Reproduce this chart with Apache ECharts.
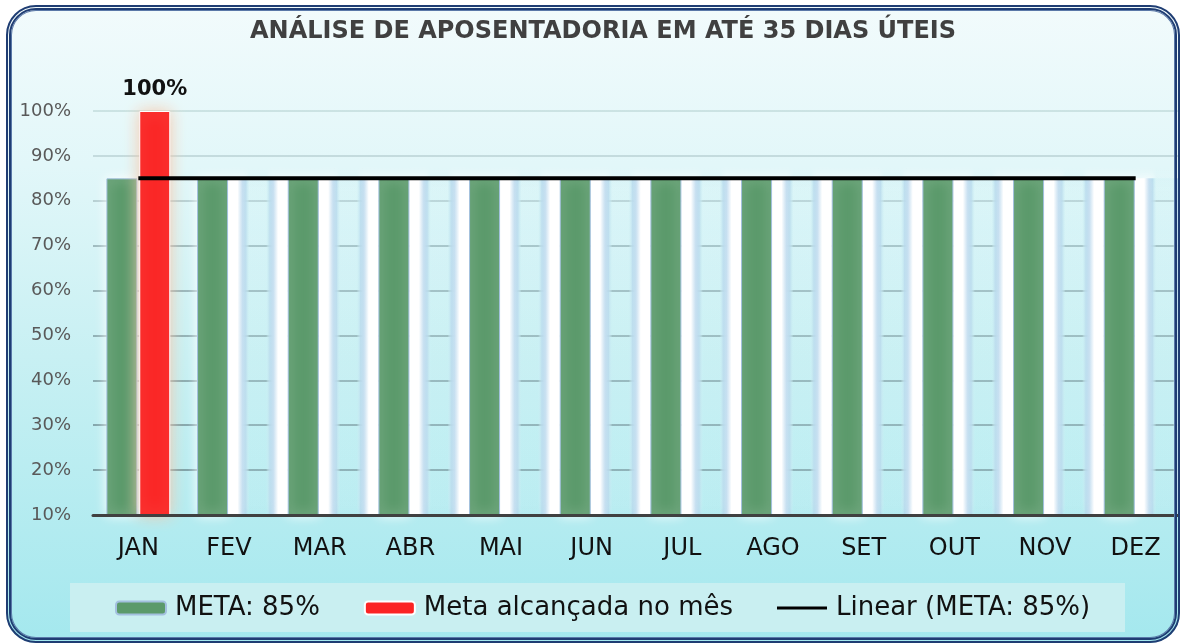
<!DOCTYPE html>
<html>
<head>
<meta charset="utf-8">
<script src="https://cdn.jsdelivr.net/npm/echarts@6/dist/echarts.min.js"></script>
<style>
  html, body { margin: 0; padding: 0; background: #ffffff; }
  #bg {
    position: absolute; left: 6px; top: 5px; width: 1174px; height: 638px;
    border-radius: 30px;
    background: linear-gradient(to bottom, #f2fbfc 0%, #e2f7f9 25%, #c8f0f3 55%, #a4e8ee 100%);
  }
  #frame {
    position: absolute; left: 6px; top: 5px; width: 1164px; height: 628px;
    border: 5px double #1f3d73; border-radius: 30px; pointer-events: none;
    box-shadow: inset 0 0 0 1px #5a78a8, 0 0 0 2px #ffffff;
  }
  #chart { position: absolute; left: 0; top: 0; width: 1181px; height: 643px; }
</style>
</head>
<body>
<div id="bg"></div>
<div id="chart"></div>
<div id="frame"></div>
<script>
const categories = ['JAN', 'FEV', 'MAR', 'ABR', 'MAI', 'JUN', 'JUL', 'AGO', 'SET', 'OUT', 'NOV', 'DEZ'];
const meta = [85, 85, 85, 85, 85, 85, 85, 85, 85, 85, 85, 85];
const alcancada = [100, null, null, null, null, null, null, null, null, null, null, null];
const sombra = [null, 85, 85, 85, 85, 85, 85, 85, 85, 85, 85, 85];
const linear = [85, 85, 85, 85, 85, 85, 85, 85, 85, 85, 85, 85];
const yTicks = { min: 10, max: 100, interval: 10 };

const chart = echarts.init(document.getElementById('chart'));
const font = 'DejaVu Sans';
const lineIcon = 'path://M0,0H0.01V0.01H0Z M0,5H50V8H0Z M49.99,12.99H50V13H49.99Z';

function renderSombra(params, api) {
  const v = api.value(1);
  if (isNaN(v)) return null;
  const idx = api.value(0);
  const top = api.coord([idx, v]);
  const base = api.coord([idx, yTicks.min]);
  const cw = api.size([1, 0])[0];
  const x0 = top[0] - 1;
  const x1 = top[0] + cw - 32;
  return {
    type: 'rect',
    shape: { x: x0, y: top[1], width: x1 - x0, height: base[1] - top[1] },
    style: {
      fill: new echarts.graphic.LinearGradient(0, 0, 1, 0, [
        { offset: 0, color: 'rgba(255,255,255,1)' },
        { offset: 0.16, color: 'rgba(255,255,255,1)' },
        { offset: 0.24, color: 'rgba(196,222,240,0.95)' },
        { offset: 0.3, color: 'rgba(168,210,232,0.7)' },
        { offset: 0.36, color: 'rgba(166,230,238,0.12)' },
        { offset: 0.64, color: 'rgba(166,230,238,0.12)' },
        { offset: 0.7, color: 'rgba(168,210,232,0.7)' },
        { offset: 0.76, color: 'rgba(196,222,240,0.95)' },
        { offset: 0.84, color: 'rgba(255,255,255,1)' },
        { offset: 1, color: 'rgba(255,255,255,1)' }
      ]),
      shadowBlur: 12, shadowColor: 'rgba(255,255,255,1)'
    }
  };
}

chart.setOption({
  animation: false,
  textStyle: { fontFamily: font },
  title: {
    text: 'ANÁLISE DE APOSENTADORIA EM ATÉ 35 DIAS ÚTEIS',
    left: 598, top: 15, textAlign: 'center',
    textStyle: { fontFamily: font, fontSize: 24, fontWeight: 'bold', color: '#404040' }
  },
  graphic: [{
    type: 'rect', z: -1, silent: true,
    shape: { x: 70, y: 583, width: 1055, height: 49 },
    style: { fill: '#c9eff1' }
  }],
  legend: {
    left: 110, top: 590, itemWidth: 50, itemHeight: 13, itemGap: 44,
    data: [
      { name: 'META: 85%' },
      { name: 'Meta alcançada no mês' },
      { name: 'Linear (META: 85%)', icon: lineIcon, itemStyle: { color: '#000000', borderWidth: 0 } }
    ],
    textStyle: { fontFamily: font, fontSize: 26, color: '#111111', padding: [0, 0, 0, 4] }
  },
  grid: { left: 93, top: 111, width: 1090, bottom: 128, containLabel: false },
  xAxis: {
    type: 'category', data: categories, z: 10,
    axisLine: { lineStyle: { color: '#404040', width: 3 } },
    axisTick: { show: false },
    axisLabel: { fontFamily: font, fontSize: 24, color: '#111111', margin: 22 }
  },
  yAxis: {
    type: 'value', min: yTicks.min, max: yTicks.max, interval: yTicks.interval,
    axisLine: { show: false }, axisTick: { show: false },
    axisLabel: { fontFamily: font, fontSize: 18, color: '#595959', margin: 22, formatter: '{value}%' },
    splitLine: {
      lineStyle: {
        width: 1.5,
        color: {
          type: 'linear', x: 0, y: 100, x2: 0, y2: 520, global: true,
          colorStops: [
            { offset: 0, color: '#c4dedd' },
            { offset: 0.2, color: '#b4cccf' },
            { offset: 0.35, color: '#8aa6ab' },
            { offset: 1, color: '#5f7f86' }
          ]
        }
      }
    }
  },
  series: [
    {
      name: 'sombra', type: 'custom', data: sombra.map((v, i) => [i, v == null ? NaN : v]),
      encode: { x: 0, y: 1 }, renderItem: renderSombra, clip: true, silent: true, z: 1
    },
    {
      name: 'META: 85%', type: 'bar', data: meta, barWidth: 31, barGap: '6%',
      itemStyle: {
        color: '#5b9a6b', borderColor: '#a3c0df', borderWidth: 1,
        shadowBlur: 12, shadowColor: 'rgba(255,255,255,1)'
      },
      z: 3
    },
    {
      name: 'Meta alcançada no mês', type: 'bar', data: alcancada, barWidth: 31,
      itemStyle: {
        color: '#fb2424', borderColor: '#ffffff', borderWidth: 1,
        shadowBlur: 16, shadowColor: 'rgba(248,200,170,1)'
      },
      label: {
        show: true, position: 'top', distance: 11, formatter: '{c}%',
        fontFamily: font, fontSize: 21, fontWeight: 'bold', color: '#111111'
      },
      z: 3
    },
    {
      name: 'Linear (META: 85%)', type: 'line', data: linear,
      symbol: 'none', showSymbol: false,
      lineStyle: { color: '#000000', width: 4 },
      itemStyle: { color: '#000000' },
      z: 5
    }
  ]
});
</script>
</body>
</html>
